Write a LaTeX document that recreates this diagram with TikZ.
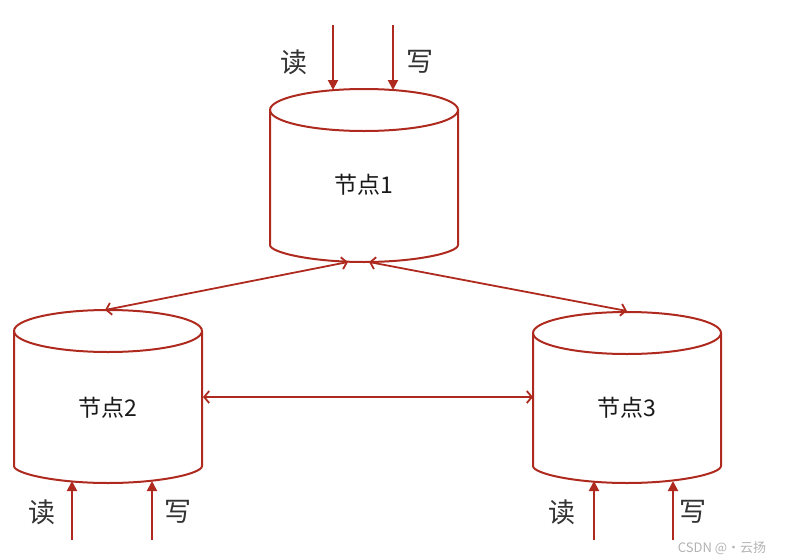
\documentclass[tikz,border=0pt]{standalone}
\usepackage{fontspec}
\setmainfont{Noto Sans CJK SC}
\newfontfamily\cjk{Noto Sans CJK SC}
\usetikzlibrary{arrows.meta}
\definecolor{dbred}{RGB}{175,42,30}
\tikzset{
  cylline/.style={draw=dbred, line width=2pt, line join=round},
  rw/.style={draw=dbred, line width=2pt, -{Triangle[length=10pt,width=10pt]}},
  link/.style={draw=dbred, line width=1.8pt, {Straight Barb[length=5pt,width=12pt]}-{Straight Barb[length=5pt,width=12pt]}},
  lbl/.style={font=\cjk\fontsize{27}{27}\selectfont, text=black!80},
  ntxt/.style={font=\cjk\fontsize{23}{23}\selectfont, text=black!90},
}
\newcommand{\mycyl}[5]{% cx, top center y, bottom center y, rx, ry
  \draw[cylline, rounded corners=4pt] (#1-#4,-#2) -- (#1-#4,-#3) arc (180:360:#4pt and #5pt) -- (#1+#4,-#2);
  \draw[cylline] (#1,-#2) ellipse (#4pt and #5pt);
}
\begin{document}
\begin{tikzpicture}[x=1pt,y=1pt]
\useasboundingbox (0,0) rectangle (788,-560);
% cylinders
\mycyl{364}{110}{241}{94}{21}
\mycyl{108}{331}{462}{94}{21}
\mycyl{627}{333}{462}{94}{21}
\node[ntxt] (n1) at (364,-185) {节点1};
\node[ntxt] (n2) at (108,-408) {节点2};
\node[ntxt] (n3) at (627,-408) {节点3};
% connection points
\coordinate (n1bl) at (348,-262);
\coordinate (n1br) at (369,-262);
\coordinate (n2t) at (105,-310);
\coordinate (n3t) at (627,-311);
\coordinate (n2r) at (203,-397);
\coordinate (n3l) at (533,-397);
\draw[link] (n1bl) -- (n2t);
\draw[link] (n1br) -- (n3t);
\draw[link] (n2r) -- (n3l);
% read/write arrows node 1
\coordinate (r1s) at (333,-25); \coordinate (r1e) at (333,-90);
\coordinate (w1s) at (393,-25); \coordinate (w1e) at (393,-90);
\draw[rw] (r1s) -- (r1e);
\draw[rw] (w1s) -- (w1e);
\node[lbl] (l1r) at (294,-62) {读};
\node[lbl] (l1w) at (420,-62) {写};
% node 2
\coordinate (r2s) at (72,-540); \coordinate (r2e) at (72,-481);
\coordinate (w2s) at (152,-540); \coordinate (w2e) at (152,-481);
\draw[rw] (r2s) -- (r2e);
\draw[rw] (w2s) -- (w2e);
\node[lbl] (l2r) at (42,-512) {读};
\node[lbl] (l2w) at (178,-512) {写};
% node 3
\coordinate (r3s) at (594,-540); \coordinate (r3e) at (594,-481);
\coordinate (w3s) at (673,-540); \coordinate (w3e) at (673,-481);
\draw[rw] (r3s) -- (r3e);
\draw[rw] (w3s) -- (w3e);
\node[lbl] (l3r) at (562,-512) {读};
\node[lbl] (l3w) at (693,-512) {写};
% watermark
\node[font=\cjk\fontsize{13}{13}\selectfont, text=black!30] (wm) at (722,-548) {CSDN @·云扬};
\end{tikzpicture}
\end{document}
